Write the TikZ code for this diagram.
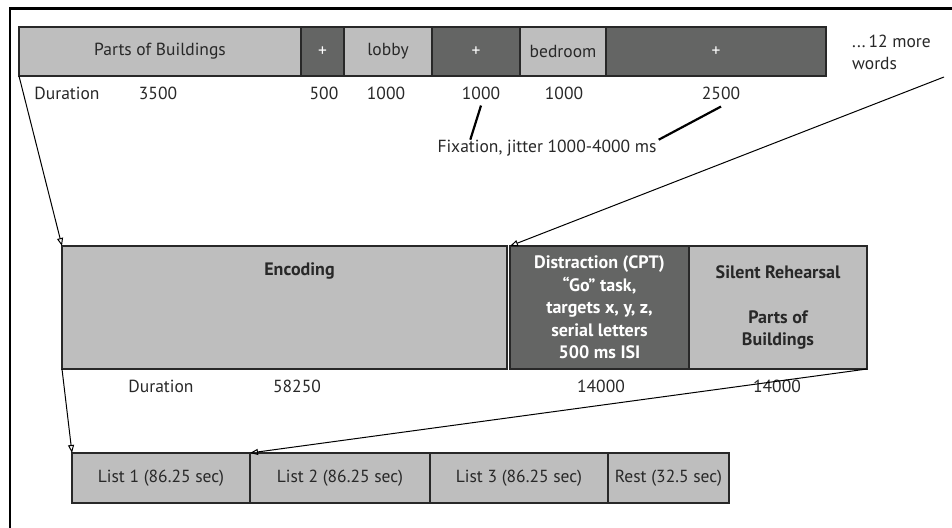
\documentclass[tikz,border=0pt]{standalone}
\usepackage{fontspec}
\setmainfont{PT Sans}
\usetikzlibrary{arrows.meta,positioning}
\definecolor{lite}{RGB}{190,190,190}
\definecolor{dark}{RGB}{100,101,100}
\definecolor{ink}{RGB}{40,40,40}

\begin{document}
\begin{tikzpicture}
    [x=1pt,y=-1pt,node distance=0pt,
     pre/.style={<-,>={Triangle[open,length=8pt,width=6pt]},line width=1pt,draw=black},
     cell/.style={draw=ink,line width=1.4pt,minimum height=49pt,inner sep=0pt,outer sep=0pt,
       align=center,font=\fontsize{17.5}{22.5}\selectfont},
     lite/.style={cell,fill=lite,text=ink},
     dark/.style={cell,fill=dark,text=white},
     big/.style={minimum height=123pt,font=\fontsize{18}{22.5}\selectfont\bfseries},
     dur/.style={font=\fontsize{17.5}{20}\selectfont,text=ink,inner sep=0pt},
     fixline/.style={line width=2.2pt,draw=black}]
  \clip (0,0) rectangle (952,527);
  \fill [white] (0,0) rectangle (952,527);
  \draw [line width=2.5pt] (10,8.5) rectangle (990,560);

  % word trial
  \node [lite,minimum width=282pt,anchor=west] (pob) at (19,51.5) {Parts of Buildings};
  \node [dark,minimum width=43pt,right=of pob] (fix1) {+};
  \node [lite,minimum width=88pt,right=of fix1] (lobby) {lobby};
  \node [dark,minimum width=88pt,right=of lobby] (fix2) {+};
  \node [lite,minimum width=86pt,right=of fix2] (bed) {bedroom};
  \node [dark,minimum width=220pt,right=of bed] (fix3) {+};
  \node [dur,align=left,anchor=north west,font=\fontsize{17.5}{22}\selectfont] (more) at (852,35) {...\,12 more\\words};

  \node [dur] (dur0) at (67,93) {Duration};
  \node [dur] (d1) at (158,93) {3500};
  \node [dur] (d2) at (324,93) {500};
  \node [dur] (d3) at (386,93) {1000};
  \node [dur] (d4) at (481,93) {1000};
  \node [dur] (d5) at (564,93) {1000};
  \node [dur] (d6) at (721,93) {2500};

  \node [dur] (fix) at (547,148) {Fixation, jitter 1000-4000 ms};
  \draw [fixline] ([yshift=-6pt]d4.south) -- ([xshift=33pt]fix.north west);
  \draw [fixline] ([yshift=-7pt]d6.south) -- ([xshift=2pt]fix.north east);

  % block
  \node [lite,big,minimum width=445pt,anchor=north west,
    label={[font=\fontsize{18}{20}\selectfont\bfseries,text=ink,inner sep=0pt,
      anchor=north,xshift=15pt,yshift=-16pt]north:Encoding}] (enc) at (62,246) {};
  \node [dark,big,minimum width=179pt,anchor=north west] (dis) at (510,246)
    {Distraction (CPT)\\“Go” task,\\targets x, y, z,\\serial letters\\500 ms ISI};
  \node [lite,big,minimum width=178pt,right=of dis] (sil)
    {Silent Rehearsal\\[22.5pt]Parts of\\Buildings};

  \node [dur] (dur1) at (161,386) {Duration};
  \node [dur] (d7) at (297,386) {58250};
  \node [dur] (d8) at (601,386) {14000};
  \node [dur] (d9) at (777,386) {14000};

  % run
  \node [lite,minimum width=178pt,minimum height=50pt,anchor=north west] (l1) at (72,453) {List 1 (86.25 sec)};
  \node [lite,minimum width=180pt,minimum height=50pt,right=of l1] (l2) {List 2 (86.25 sec)};
  \node [lite,minimum width=178pt,minimum height=50pt,right=of l2] (l3) {List 3 (86.25 sec)};
  \node [lite,minimum width=121pt,minimum height=50pt,right=of l3] (rest) {Rest (32.5 sec)};

  \coordinate (moretail) at (944,77);
  \draw [pre] (enc.north west) -- (pob.south west);
  \draw [pre] (dis.north west) -- (moretail);
  \draw [pre] (l1.north west) -- (enc.south west);
  \draw [pre] (l2.north west) -- (sil.south east);
\end{tikzpicture}
\end{document}
